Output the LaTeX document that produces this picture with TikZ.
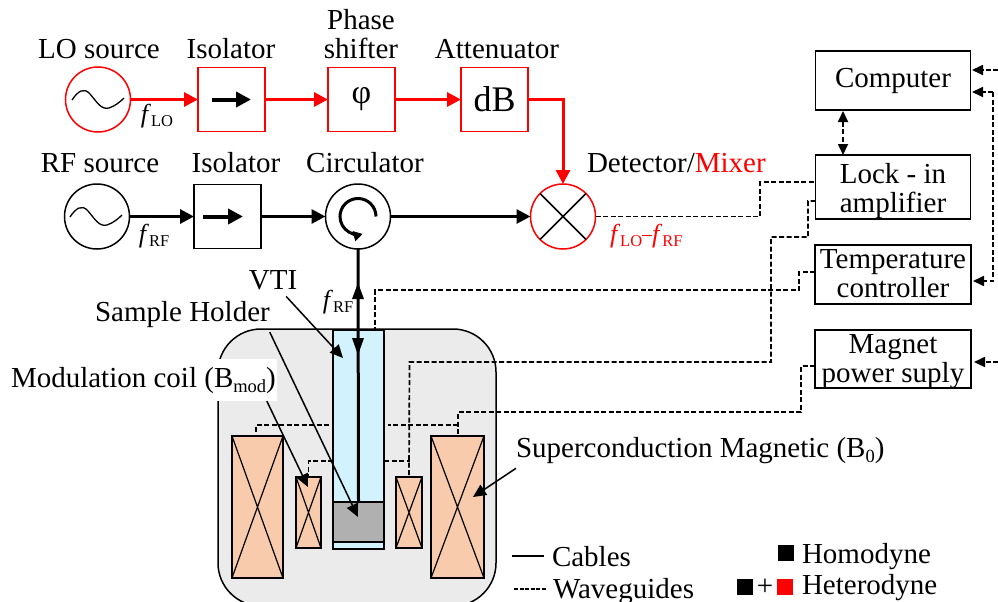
\documentclass[tikz,border=0pt]{standalone}
\usepackage{fontspec}
\setmainfont{Liberation Serif}
\usepackage{xcolor}
\usetikzlibrary{arrows.meta, positioning, calc}
\definecolor{coilfill}{HTML}{F7CBAB}
\definecolor{tubefill}{HTML}{D2F3FD}
\definecolor{holderfill}{HTML}{B0B0B0}
\definecolor{cryofill}{HTML}{EBEBEB}
\newcommand{\txtsize}{\fontsize{29}{29}\selectfont}
\newcommand{\subtxt}[1]{\raisebox{-5pt}{\fontsize{18.5}{18}\selectfont #1}}
\newcommand{\freqlabel}[1]{{\fontsize{26}{26}\selectfont\textit{f}}\raisebox{-4pt}{\fontsize{16.5}{16}\selectfont #1}}
\tikzset{
  every node/.style={font=\txtsize, inner sep=0pt, outer sep=0pt},
  txtlabel/.style={anchor=base},
  srccircle/.style={draw, circle, line width=1.5pt, minimum size=65pt},
  devbox/.style={draw, line width=1.5pt, minimum width=67pt, minimum height=64pt},
  ctrlbox/.style={draw, line width=1.5pt, minimum width=155pt},
  coilbox/.style={draw, line width=1.5pt, fill=coilfill},
  rfline/.style={line width=3pt, -{Triangle[length=14pt,width=14pt]}},
  redline/.style={rfline, red},
  isoarrow/.style={line width=4pt, -{Triangle[length=15pt,width=15pt]}},
  guide/.style={line width=1.7pt, dash pattern=on 5pt off 2.5pt},
  guidetip/.style={guide, -{Triangle[length=11pt,width=10pt]}},
  leader/.style={line width=1.5pt, -{Triangle[length=13pt,width=12pt]}},
}
\begin{document}
\begin{tikzpicture}[x=1pt, y=-1pt]
\useasboundingbox (0,0) rectangle (998,602);

% LO branch
\node[srccircle, red] (losrc) at (98,99.5) {};
\node[devbox, red] (isolo) at (231.5,99.5) {};
\node[devbox, red] (phase) at (361.5,99.5) {\textcolor{black}{\fontsize{34}{34}\selectfont φ}};
\node[devbox, red] (atten) at (494.5,99.5) {\textcolor{black}{\fontsize{36}{36}\selectfont dB}};
\node[txtlabel] (lolabel) at (99,59) {LO source};
\node[txtlabel] (isololabel) at (231,59) {Isolator};
\node[txtlabel, align=center] (phaselabel) at (361,59) {Phase\\shifter};
\node[txtlabel] (attenlabel) at (497,59) {Attenuator};

% RF branch
\node[srccircle] (rfsrc) at (97,216.5) {};
\node[devbox] (isorf) at (227.5,216.5) {};
\node[srccircle] (circ) at (358,216.5) {};
\node[srccircle, red] (mixer) at (563,216.5) {};
\node[txtlabel] (rflabel) at (100,172) {RF source};
\node[txtlabel] (isorflabel) at (236,172) {Isolator};
\node[txtlabel] (circlabel) at (365,172) {Circulator};
\node[txtlabel, anchor=base west] (mixlabel) at (587,172) {Detector/\textcolor{red}{Mixer}};

% Sine waves
\draw[line width=1.3pt] (72,100) .. controls (78,91) and (84,87) .. (90,94) .. controls (97,102) and (101,110) .. (109,108) .. controls (115,106) and (120,102) .. (124,98);
\draw[line width=1.3pt] (70,217) .. controls (76,208) and (82,204) .. (88,211) .. controls (95,219) and (99,227) .. (107,225) .. controls (113,223) and (118,219) .. (122,215);

% Inner symbols
\draw[isoarrow] ([xshift=-19.5pt]isolo.center) -- ([xshift=19.5pt]isolo.center);
\draw[isoarrow] ([xshift=-24.5pt]isorf.center) -- ([xshift=15.5pt]isorf.center);
\draw[line width=1.5pt] (mixer.45) -- (mixer.225) (mixer.135) -- (mixer.315);
\draw[line width=3pt, -{Triangle[length=9pt,width=10pt]}] ([xshift=18pt]circ.center) arc[start angle=0, end angle=285, radius=18pt];

% Signal lines
\draw[redline] (losrc.east) -- (isolo.west);
\draw[redline] (isolo.east) -- (phase.west);
\draw[redline] (phase.east) -- (atten.west);
\draw[redline] (atten.east) -| (mixer.north);
\draw[rfline] (rfsrc.east) -- (isorf.west);
\draw[rfline] (isorf.east) -- (circ.west);
\draw[rfline] (circ.east) -- (mixer.west);
\node[anchor=base] (flo) at (157,122) {\freqlabel{LO}};
\node[anchor=base] (frf) at (154,242) {\freqlabel{RF}};
\node[anchor=base west] (fdiff) at (610,242) {\textcolor{red}{\freqlabel{LO}\rule[6pt]{10pt}{0.8pt}\freqlabel{RF}}};

% Control boxes
\node[ctrlbox, minimum height=59pt] (computer) at (893,80.5) {};
\node[ctrlbox, minimum height=64pt] (lockin) at (893,187) {};
\node[ctrlbox, minimum width=156pt, minimum height=59pt] (tempctl) at (893,274.5) {};
\node[ctrlbox, minimum width=156pt, minimum height=58pt] (magnet) at (893,359) {};
\node[txtlabel] (computerlabel) at (893,88) {Computer};
\node[txtlabel, align=center] (lockinlabel) at (893,212) {Lock - in\\amplifier};
\node[txtlabel, align=center] (templabel) at (893,297) {Temperature\\controller};
\node[txtlabel, align=center] (magnetlabel) at (893,382) {Magnet\\power suply};

% Cryostat
\fill[cryofill, draw=black, line width=1.5pt, rounded corners=43pt] (218,329) rectangle (496,606);
\node[draw, line width=1.5pt, fill=tubefill, minimum width=51pt, minimum height=219pt] (tube) at (358.5,439.5) {};
\node[draw, line width=1.5pt, fill=holderfill, minimum width=51pt, minimum height=40pt] (holder) at (358.5,522) {};
\node[coilbox, minimum width=51pt, minimum height=142pt] (coilL) at (257.5,507) {};
\node[coilbox, minimum width=53pt, minimum height=142pt] (coilR) at (457.5,507) {};
\node[coilbox, minimum width=25pt, minimum height=71pt] (modL) at (308.5,512.5) {};
\node[coilbox, minimum width=26pt, minimum height=71pt] (modR) at (409,512.5) {};
\foreach \c in {coilL,coilR,modL,modR} {
  \draw[line width=1.2pt] (\c.north west) -- (\c.south east) (\c.north east) -- (\c.south west);
}

% Waveguides
\coordinate (mixa) at (760,216.5);
\coordinate (mixb) at (760,182);
\draw[guide] (mixer.east) -- (mixa) -- (mixb) -- (mixb -| lockin.west);
\draw[guide] (lockin.west |- 0,201) -- (808,201) -- (808,237) -- (771,237) -- (771,362) -- (409.5,362) -- (modR.north);
\draw[guide] (tube.east |- 0,461) -- (409.5,461);
\draw[guide] (tube.west |- 0,461) -- (308.5,461) -- (modL.north);
\draw[guide] (tempctl.west |- 0,272) -- (799,272) -- (799,290) -- (375,290) -- (375,329);
\draw[guide] (magnet.west |- 0,366) -- (801,366) -- (801,412) -- (458,412) -- (coilR.north -| 458,0);
\draw[guide] (458,425) -- (388,425);
\draw[guide] (329,425) -- (256,425) -- (256,436);

% Right-hand links
\coordinate (pcin) at (998,70);
\coordinate (busa) at (993,92);
\coordinate (busb) at (993,281);
\coordinate (magin) at (998,362);
\draw[guidetip] (pcin) -- (972,70);
\draw[guidetip] (busa) -- (972,92);
\draw[guidetip] (busa) -- (busb) -- (973,281);
\draw[guidetip] (magin) -- (974,362);
\draw[guide, {Triangle[length=11pt,width=10pt]}-{Triangle[length=11pt,width=10pt]}] (843,111) -- (843,155);

% Rod
\draw[line width=3pt] (circ.south) -- (holder.north);
\fill (358,283) -- (364,299) -- (352,299) -- cycle;
\fill (358,355) -- (352,338) -- (364,338) -- cycle;
\node[anchor=base] (frod) at (338,308) {\freqlabel{RF}};

% Leaders
\coordinate (vtitip) at (343,358);
\coordinate (holdtip) at (358,517);
\coordinate (modtip) at (308,487);
\coordinate (magtip) at (473,497);
\node[txtlabel] (vtilabel) at (273,289) {VTI};
\node[txtlabel, anchor=base west] (holdlabel) at (95,321) {Sample Holder};
\draw[leader] ([xshift=-11pt,yshift=-7pt]vtilabel.south east) -- (vtitip);
\draw[leader] ([yshift=-5pt]holdlabel.south east) -- (holdtip);
\node[txtlabel, anchor=base west, fill=white, inner ysep=8pt, inner xsep=1pt] (modlabel) at (10,387) {Modulation coil (B\subtxt{mod})};
\draw[leader] ([xshift=-10pt]modlabel.south east) -- (modtip);
\node[txtlabel, anchor=base west] (maglabel) at (516,457) {Superconduction Magnetic (B\subtxt{0})};
\draw[leader] ([yshift=-5pt]maglabel.south west) -- (magtip);

% Legend
\node[txtlabel, anchor=base west] (cables) at (552,566) {Cables};
\node[txtlabel, anchor=base west] (wave) at (553,598) {Waveguides};
\coordinate (cablesl) at (512,556);
\coordinate (wavel) at (514,589);
\draw[line width=1.5pt] (cablesl) -- ([xshift=-8pt]cablesl -| cables.west);
\draw[guide, dash pattern=on 4pt off 1.5pt] (wavel) -- ([xshift=-7pt]wavel -| wave.west);
\node[fill=black, minimum size=16pt] (homokey) at (786,553) {};
\node[txtlabel, anchor=base west] (homo) at (802,563) {Homodyne};
\node[fill=black, minimum size=16pt] (hetkeya) at (745,587) {};
\node[fill=red, minimum size=16pt] (hetkeyb) at (785,587) {};
\node (plus) at (765,587) {+};
\node[txtlabel, anchor=base west] (hetero) at (802,594) {Heterodyne};
\end{tikzpicture}
\end{document}
